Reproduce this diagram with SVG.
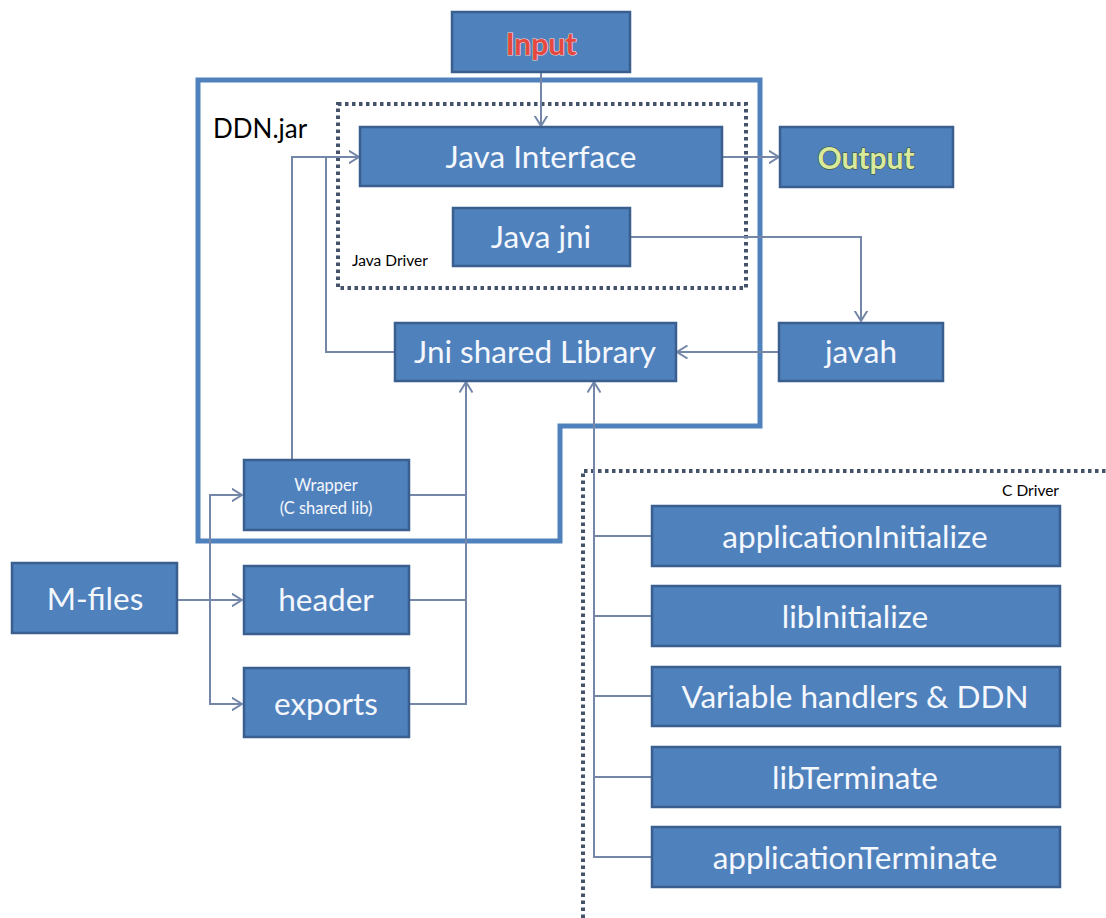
<svg xmlns="http://www.w3.org/2000/svg" width="1106" height="918" viewBox="0 0 1106 918">
<style>
.box{fill:#4F81BD;stroke:#3A5F8E;stroke-width:2.5}
.lbl{font-family:Lato,"Liberation Sans",sans-serif;fill:#F4F7FC;text-anchor:middle}
.big{font-size:31.5px}
.wire{fill:none;stroke:#7487A8;stroke-width:2}
.frame{fill:none;stroke:#4F81BD;stroke-width:5}
.dots{fill:none;stroke:#44536A;stroke-width:4;stroke-dasharray:3.5 3.5}
.small{font-family:Lato,"Liberation Sans",sans-serif;font-size:15.5px;fill:#000}
</style>
<defs>
<marker id="arr" viewBox="0 0 11 14" refX="10.5" refY="7" markerWidth="11" markerHeight="14" markerUnits="userSpaceOnUse" orient="auto">
<path d="M0,0.5 L10.5,7 L0,13.5" fill="none" stroke="#7487A8" stroke-width="2"/>
</marker>
</defs>
<rect width="1106" height="918" fill="#FFFFFF"/>

<g id="ddn-jar">
<path class="frame" d="M198,80 H760 V426 H560 V541 H198 Z"/>
<text x="213" y="138" font-family="Lato,'Liberation Sans',sans-serif" font-size="26" fill="#000">DDN.jar</text>
</g>
<g id="java-driver">
<rect class="dots" x="338" y="104" width="408" height="184"/>
<text class="small" x="352" y="266">Java Driver</text>
</g>
<g id="c-driver">
<path class="dots" d="M583,918 V471 H1110"/>
<text class="small" x="1059" y="496" text-anchor="end">C Driver</text>
</g>

<g id="connectors">
<path class="wire" d="M541,72 V126" marker-end="url(#arr)"/>
<path class="wire" d="M722,157 H779" marker-end="url(#arr)"/>
<path class="wire" d="M630,237 H861 V321" marker-end="url(#arr)"/>
<path class="wire" d="M779,352 H677" marker-end="url(#arr)"/>
<path class="wire" d="M395,352 H326 V157 H359" marker-end="url(#arr)"/>
<path class="wire" d="M292,460 V157 H326"/>
<path class="wire" d="M177,600 H242" marker-end="url(#arr)"/>
<path class="wire" d="M242,495 H210 V704 H242" marker-end="url(#arr)"/>
<path class="wire" d="M210,495 H242" marker-end="url(#arr)"/>
<path class="wire" d="M409,704 H466 V382" marker-end="url(#arr)"/>
<path class="wire" d="M409,495 H466 M409,600 H466"/>
<path class="wire" d="M652,857 H594 V382" marker-end="url(#arr)"/>
<path class="wire" d="M594,536 H652 M594,616 H652 M594,696 H652 M594,777 H652"/>
</g>

<g id="input">
<rect class="box" x="452" y="12" width="178" height="60"/>
<text x="541" y="55" text-anchor="middle" font-family="Lato,'Liberation Sans',sans-serif" font-size="30" font-weight="bold" fill="#E5483F" stroke="#F7D6CF" stroke-width="1.2" paint-order="stroke">Input</text>
</g>
<g id="java-interface">
<rect class="box" x="360" y="127" width="362" height="59"/>
<text class="lbl big" x="541" y="168">Java Interface</text>
</g>
<g id="output">
<rect class="box" x="780" y="127" width="173" height="60"/>
<text x="866" y="169" text-anchor="middle" font-family="Lato,'Liberation Sans',sans-serif" font-size="30" font-weight="bold" fill="#D9EA9C" stroke="#39472B" stroke-width="1" paint-order="stroke">Output</text>
</g>
<g id="java-jni">
<rect class="box" x="453" y="208" width="177" height="58"/>
<text class="lbl big" x="541" y="248">Java jni</text>
</g>
<g id="jni-shared-library">
<rect class="box" x="395" y="323" width="281" height="58"/>
<text class="lbl big" x="535" y="363">Jni shared Library</text>
</g>
<g id="javah">
<rect class="box" x="779" y="323" width="164" height="58"/>
<text class="lbl big" x="861" y="363">javah</text>
</g>
<g id="wrapper">
<rect class="box" x="244" y="460" width="165" height="70"/>
<text class="lbl" x="326" y="491" font-size="16.5">Wrapper</text>
<text class="lbl" x="326" y="514" font-size="16.5">(C shared lib)</text>
</g>
<g id="m-files">
<rect class="box" x="12" y="563" width="165" height="70"/>
<text class="lbl big" x="95" y="610">M-files</text>
</g>
<g id="header">
<rect class="box" x="244" y="566" width="165" height="68"/>
<text class="lbl big" x="326" y="611">header</text>
</g>
<g id="exports">
<rect class="box" x="244" y="668" width="165" height="69"/>
<text class="lbl big" x="326" y="715">exports</text>
</g>
<g id="application-initialize">
<rect class="box" x="652" y="506" width="408" height="60"/>
<text class="lbl big" x="855" y="548">applicationInitialize</text>
</g>
<g id="lib-initialize">
<rect class="box" x="652" y="586" width="408" height="60"/>
<text class="lbl big" x="855" y="628">libInitialize</text>
</g>
<g id="variable-handlers">
<rect class="box" x="652" y="667" width="408" height="59"/>
<text class="lbl big" x="855" y="708">Variable handlers &amp; DDN</text>
</g>
<g id="lib-terminate">
<rect class="box" x="652" y="747" width="408" height="60"/>
<text class="lbl big" x="855" y="789">libTerminate</text>
</g>
<g id="application-terminate">
<rect class="box" x="652" y="827" width="408" height="60"/>
<text class="lbl big" x="855" y="869">applicationTerminate</text>
</g>
</svg>
